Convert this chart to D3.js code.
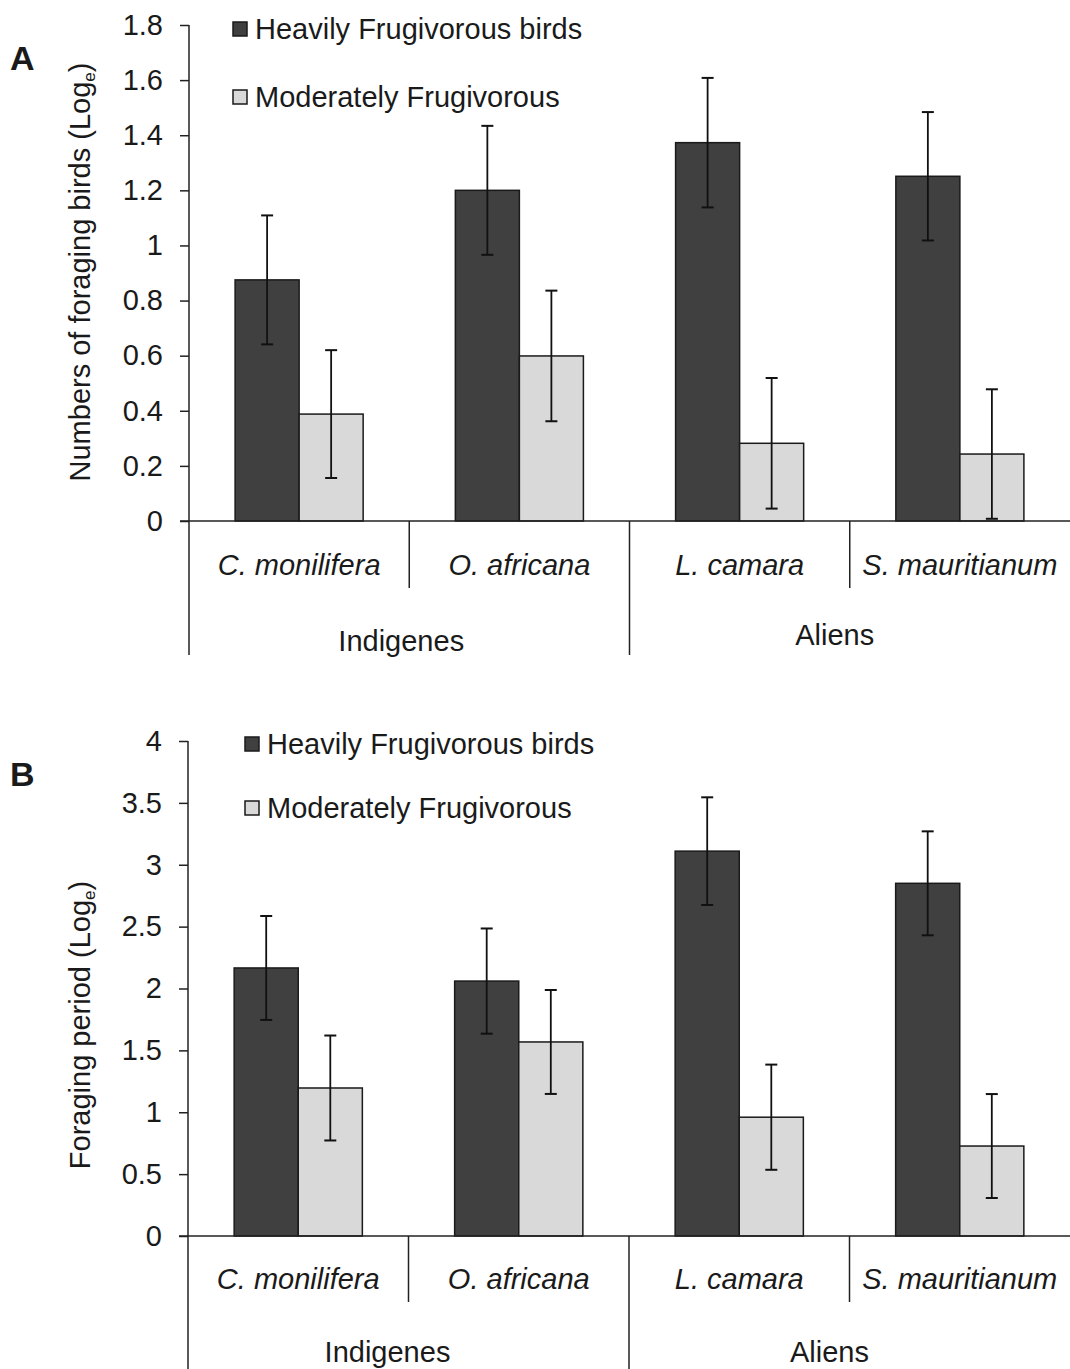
<!DOCTYPE html>
<html>
<head>
<meta charset="utf-8">
<script src="https://cdn.jsdelivr.net/npm/d3@7"></script>
<style>
  body { margin: 0; background: #fff; }
  svg text { font-family: "Liberation Sans", Arial, sans-serif; fill: #1a1a1a; }
</style>
</head>
<body>
<div id="chart"></div>
<script>
// data
const species = ["C. monilifera", "O. africana", "L. camara", "S. mauritianum"];
const groupNames = ["Indigenes", "Aliens"];
const speciesGroup = [0, 0, 1, 1];
const seriesNames = ["Heavily Frugivorous birds", "Moderately Frugivorous"];

// panel A: numbers of foraging birds (log e)
const heavyBirdsA = [0.875, 1.20, 1.373, 1.251];
const heavyBirdsErrA = [0.234, 0.234, 0.235, 0.233];
const modBirdsA = [0.388, 0.599, 0.282, 0.243];
const modBirdsErrA = [0.232, 0.237, 0.237, 0.235];
const ticksA = [0, 0.2, 0.4, 0.6, 0.8, 1, 1.2, 1.4, 1.6, 1.8];

// panel B: foraging period (log e)
const heavyPeriodB = [2.166, 2.06, 3.11, 2.85];
const heavyPeriodErrB = [0.42, 0.425, 0.435, 0.42];
const modPeriodB = [1.196, 1.568, 0.96, 0.727];
const modPeriodErrB = [0.424, 0.42, 0.425, 0.42];
const ticksB = [0, 0.5, 1, 1.5, 2, 2.5, 3, 3.5, 4];

const W = 1070, H = 1369;
const colors = ["#404040", "#d9d9d9"];
const fontSize = "29px";

const svg = d3.select("#chart").append("svg")
    .attr("width", W)
    .attr("height", H);

function drawPanel(p) {
    const x0 = d3.scaleBand().domain(species).range([p.left, W]);
    const x1 = d3.scaleBand().domain(seriesNames).range([0, x0.bandwidth()]).paddingOuter(0.72);
    const y = d3.scaleLinear().domain([0, p.max]).range([p.bottom, p.top]);

    const g = svg.append("g");

    // panel letter
    g.append("text")
        .attr("x", 10).attr("y", p.top + 45)
        .style("font-size", "34px").style("font-weight", "bold")
        .text(p.letter);

    // y axis
    const yAxis = d3.axisLeft(y).tickValues(p.ticks).tickSize(9).tickPadding(17)
        .tickFormat(d => d3.format("")(d));
    const ya = g.append("g")
        .attr("transform", "translate(" + p.left + ",0)")
        .call(yAxis);
    ya.select(".domain").remove();
    ya.selectAll("line").attr("stroke", "#222").attr("stroke-width", 1.5);
    ya.selectAll("text").style("font-size", fontSize).attr("fill", "#1a1a1a")
        .attr("font-family", "Liberation Sans, Arial, sans-serif");

    // vertical axis line (runs down through the category area)
    g.append("line")
        .attr("x1", p.left).attr("x2", p.left)
        .attr("y1", y(p.max)).attr("y2", p.groupLineEnd)
        .attr("stroke", "#222").attr("stroke-width", 1.5);

    // y title
    const t = g.append("text")
        .attr("transform", "translate(" + p.titleX + "," + p.titleY + ") rotate(-90)")
        .attr("text-anchor", "middle")
        .style("font-size", fontSize);
    t.append("tspan").text(p.title + " (Log");
    t.append("tspan").text("e").style("font-size", "17px").attr("dy", 5);
    t.append("tspan").text(")").attr("dy", -5);

    // bars
    const rows = species.map((s, i) => ({
        species: s,
        vals: [
            { key: seriesNames[0], v: p.heavy[i], e: p.heavyErr[i] },
            { key: seriesNames[1], v: p.mod[i], e: p.modErr[i] }
        ]
    }));

    const grp = g.selectAll(".grp").data(rows).enter().append("g")
        .attr("transform", d => "translate(" + x0(d.species) + ",0)");

    grp.selectAll("rect").data(d => d.vals).enter().append("rect")
        .attr("x", d => x1(d.key))
        .attr("width", x1.bandwidth())
        .attr("y", d => y(d.v))
        .attr("height", d => y(0) - y(d.v))
        .attr("fill", (d, i) => colors[i])
        .attr("stroke", "#1a1a1a")
        .attr("stroke-width", 1.5);

    // error bars
    const eb = grp.selectAll(".err").data(d => d.vals).enter().append("g")
        .attr("transform", d => "translate(" + (x1(d.key) + x1.bandwidth() / 2) + ",0)");
    eb.append("line")
        .attr("y1", d => y(d.v + d.e)).attr("y2", d => y(Math.max(0, d.v - d.e)))
        .attr("stroke", "#111").attr("stroke-width", 1.8);
    eb.append("line").attr("x1", -6).attr("x2", 6)
        .attr("y1", d => y(d.v + d.e)).attr("y2", d => y(d.v + d.e))
        .attr("stroke", "#111").attr("stroke-width", 2);
    eb.append("line").attr("x1", -6).attr("x2", 6)
        .attr("y1", d => y(Math.max(0, d.v - d.e))).attr("y2", d => y(Math.max(0, d.v - d.e)))
        .attr("stroke", "#111").attr("stroke-width", 2);

    // x axis line
    g.append("line")
        .attr("x1", p.left - 9).attr("x2", W)
        .attr("y1", y(0)).attr("y2", y(0))
        .attr("stroke", "#222").attr("stroke-width", 1.5);

    // category separators
    species.forEach((s, i) => {
        if (i === 0) return;
        const longLine = speciesGroup[i] !== speciesGroup[i - 1];
        g.append("line")
            .attr("x1", x0(s)).attr("x2", x0(s))
            .attr("y1", y(0)).attr("y2", longLine ? p.groupLineEnd : p.speciesLineEnd)
            .attr("stroke", "#222").attr("stroke-width", 1.5);
    });

    // species labels
    g.selectAll(".sp").data(species).enter().append("text")
        .attr("x", d => x0(d) + x0.bandwidth() / 2)
        .attr("y", p.speciesY)
        .attr("text-anchor", "middle")
        .style("font-size", fontSize).style("font-style", "italic")
        .text(d => d);

    // group labels
    groupNames.forEach((gn, gi) => {
        const members = species.filter((s, i) => speciesGroup[i] === gi);
        const x0s = x0(members[0]);
        const x1s = x0(members[members.length - 1]) + x0.bandwidth();
        g.append("text")
            .attr("x", (x0s + x1s) / 2 + p.groupDx[gi])
            .attr("y", p.groupY[gi])
            .attr("text-anchor", "middle")
            .style("font-size", fontSize)
            .text(gn);
    });

    // legend
    seriesNames.forEach((sn, i) => {
        const ly = p.legendY[i];
        g.append("rect")
            .attr("x", p.legendX).attr("y", ly - 7)
            .attr("width", 14).attr("height", 14)
            .attr("fill", colors[i]).attr("stroke", "#1a1a1a").attr("stroke-width", 1.5);
        g.append("text")
            .attr("x", p.legendX + 22).attr("y", ly + 10)
            .style("font-size", fontSize)
            .text(sn);
    });
}

drawPanel({
    letter: "A", left: 189, top: 25, bottom: 521, max: 1.8, ticks: ticksA,
    heavy: heavyBirdsA, heavyErr: heavyBirdsErrA, mod: modBirdsA, modErr: modBirdsErrA,
    title: "Numbers of foraging birds", titleX: 90, titleY: 272,
    speciesY: 575, speciesLineEnd: 588, groupLineEnd: 655,
    groupY: [651, 645], groupDx: [-8, -15],
    legendX: 233, legendY: [29, 97]
});

drawPanel({
    letter: "B", left: 188, top: 741, bottom: 1236, max: 4, ticks: ticksB,
    heavy: heavyPeriodB, heavyErr: heavyPeriodErrB, mod: modPeriodB, modErr: modPeriodErrB,
    title: "Foraging period", titleX: 90, titleY: 1025,
    speciesY: 1289, speciesLineEnd: 1302, groupLineEnd: 1369,
    groupY: [1362, 1362], groupDx: [-21, -20],
    legendX: 245, legendY: [744, 808]
});
</script>
</body>
</html>
